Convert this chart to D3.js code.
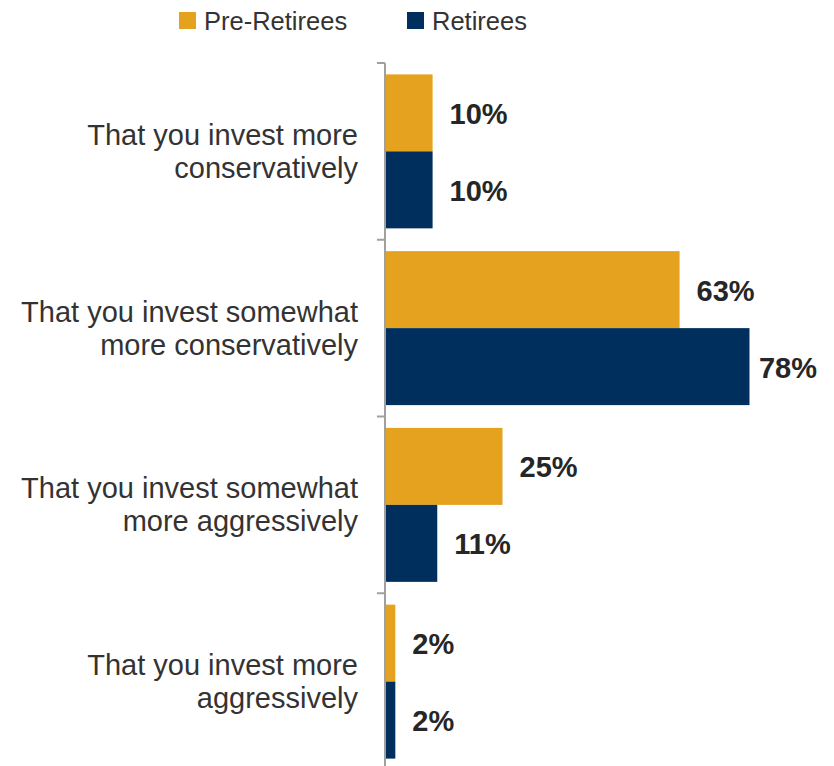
<!DOCTYPE html>
<html>
<head>
<meta charset="utf-8">
<script src="https://cdn.jsdelivr.net/npm/d3@7"></script>
<style>
  html, body { margin: 0; padding: 0; background: #fff; }
  svg { display: block; font-family: "Liberation Sans", Arial, sans-serif; }
</style>
</head>
<body>
<svg id="chart" width="834" height="766"></svg>
<script>
// Survey answers (two lines per category label)
const categories = [
  ["That you invest more", "conservatively"],
  ["That you invest somewhat", "more conservatively"],
  ["That you invest somewhat", "more aggressively"],
  ["That you invest more", "aggressively"]
];
const seriesNames = ["Pre-Retirees", "Retirees"];
const preRetirees = [10, 63, 25, 2];
const retirees = [10, 78, 11, 2];
const seriesColors = ["#E4A21F", "#012F5D"];

const values = [preRetirees, retirees];
const svg = d3.select("#chart");

const catKeys = categories.map((c, i) => i);
const y = d3.scaleBand().domain(catKeys).range([63, 770]).padding(0);
const ySub = d3.scaleBand().domain(d3.range(seriesNames.length))
  .range([0, y.bandwidth()]).paddingInner(0).paddingOuter(0.148);
const x = d3.scaleLinear().domain([0, 100]).range([386, 852]);

// Bars
catKeys.forEach(ci => {
  const g = svg.append("g").attr("transform", `translate(0,${y(ci)})`);
  seriesNames.forEach((s, si) => {
    const v = values[si][ci];
    g.append("rect")
      .attr("x", x(0))
      .attr("y", ySub(si))
      .attr("width", x(v) - x(0))
      .attr("height", ySub.bandwidth())
      .attr("fill", seriesColors[si]);
    const t = g.append("text")
      .attr("x", x(v) + 17)
      .attr("y", ySub(si) + ySub.bandwidth() / 2 + 11)
      .attr("font-size", 29)
      .attr("font-weight", "bold")
      .attr("fill", "#262626")
      .text(v + "%");
    // keep labels inside the right edge
    const w = t.node().getComputedTextLength();
    if (x(v) + 17 + w > 817) t.attr("x", 817 - w);
  });
});

// Category axis: vertical line with ticks at band boundaries
const axisG = svg.append("g").attr("stroke", "#A0A0A0").attr("stroke-width", 2);
axisG.append("line").attr("x1", 385).attr("x2", 385).attr("y1", 63).attr("y2", 770);
const bounds = catKeys.map(k => y(k)).concat([y.range()[1]]);
axisG.selectAll(".tick").data(bounds).join("line")
  .attr("x1", 377).attr("x2", 385)
  .attr("y1", d => d).attr("y2", d => d);

// Category labels
catKeys.forEach(ci => {
  const cy = y(ci) + y.bandwidth() / 2;
  const t = svg.append("text")
    .attr("text-anchor", "end")
    .attr("font-size", 29)
    .attr("fill", "#333333");
  categories[ci].forEach((line, li) => {
    t.append("tspan").attr("x", 358).attr("y", cy - 6.5 + li * 33).text(line);
  });
});

// Legend
const legendX = [179, 407];
const legend = svg.append("g");
seriesNames.forEach((s, i) => {
  legend.append("rect").attr("x", legendX[i]).attr("y", 12)
    .attr("width", 17).attr("height", 17).attr("fill", seriesColors[i]);
  legend.append("text").attr("x", legendX[i] + 25).attr("y", 30)
    .attr("font-size", 25.5).attr("fill", "#333333").text(s);
});
</script>
</body>
</html>
